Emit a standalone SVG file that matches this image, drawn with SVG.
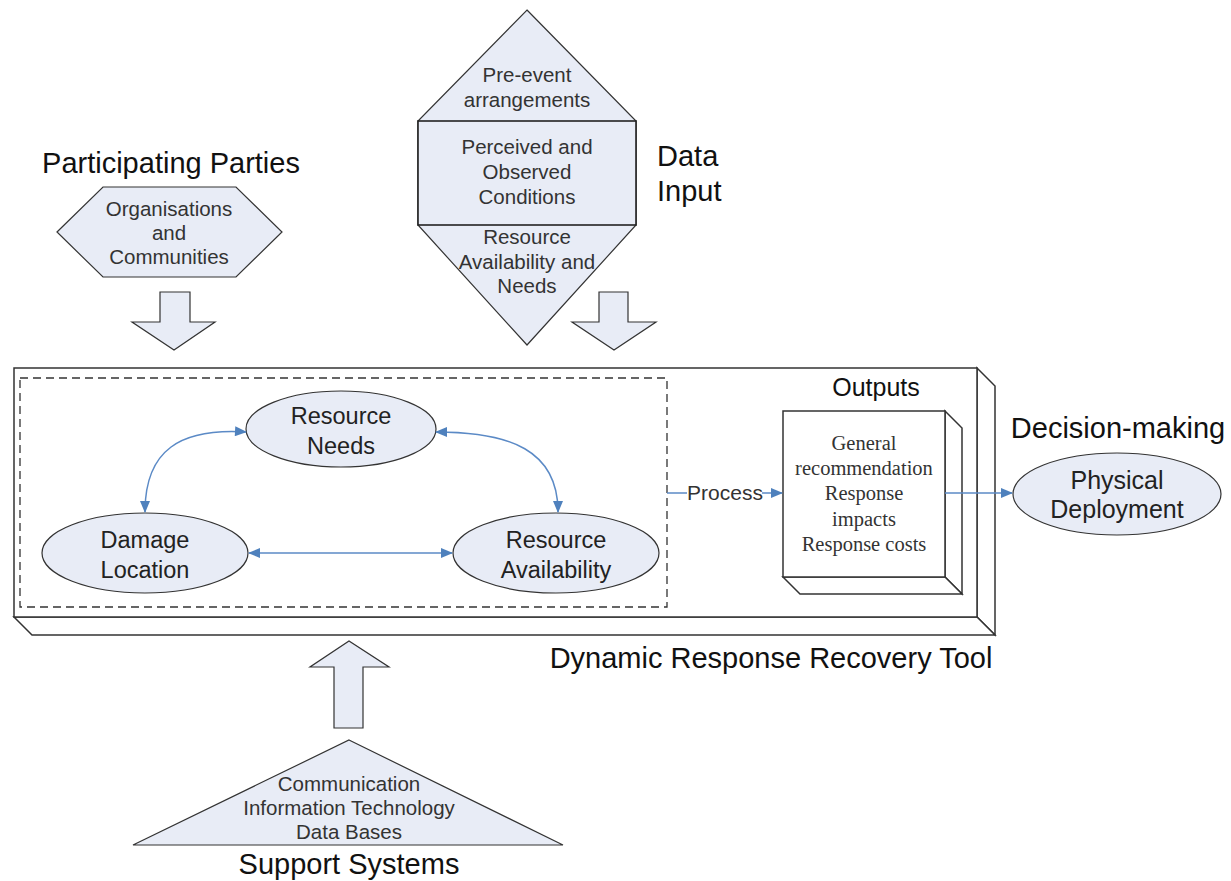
<svg xmlns="http://www.w3.org/2000/svg" width="1231" height="881" viewBox="0 0 1231 881">
<defs>
<style>
.title{font-family:"Liberation Sans",Arial,sans-serif;font-size:29px;fill:#111;text-anchor:middle}
.inner{font-family:"Liberation Sans",Arial,sans-serif;font-size:20.5px;fill:#333;text-anchor:middle}
.node{font-family:"Liberation Sans",Arial,sans-serif;font-size:23.5px;fill:#222;text-anchor:middle}
.serif{font-family:"Liberation Serif","Times New Roman",serif;font-size:20.5px;fill:#333;text-anchor:middle}
.shape{fill:#e8ecf6;stroke:#333;stroke-width:1.2}
.box{fill:#fff;stroke:#333;stroke-width:1.5}
.conn{fill:none;stroke:#5b8ac6;stroke-width:1.5}
</style>
<marker id="ah" viewBox="0 0 12 10" refX="11" refY="5" markerWidth="13" markerHeight="10" markerUnits="userSpaceOnUse" orient="auto-start-reverse">
<path d="M0,0 L12,5 L0,10 z" fill="#4f81bd"/>
</marker>
</defs>

<g id="participating-parties">
<text class="title" x="171" y="173">Participating Parties</text>
<polygon class="shape" points="57,232 103,187 236,187 282,232 236,277 103,277"/>
<text class="inner" x="169" y="216">Organisations</text>
<text class="inner" x="169" y="240">and</text>
<text class="inner" x="169" y="264">Communities</text>
<polygon class="shape" points="160,292 190,292 190,322 215,322 174,350 132,322 160,322"/>
</g>

<g id="data-input">
<polygon class="shape" points="527,10 636,121 636,225 527,345 418,225 418,121"/>
<rect x="418" y="121" width="218" height="104" fill="#e8ecf6" stroke="#222" stroke-width="1.6"/>
<text class="inner" x="527" y="82">Pre-event</text>
<text class="inner" x="527" y="107">arrangements</text>
<text class="inner" x="527" y="154">Perceived and</text>
<text class="inner" x="527" y="179">Observed</text>
<text class="inner" x="527" y="204">Conditions</text>
<text class="inner" x="527" y="244">Resource</text>
<text class="inner" x="527" y="269">Availability and</text>
<text class="inner" x="527" y="293">Needs</text>
<text class="title" x="657" y="166" style="text-anchor:start">Data</text>
<text class="title" x="657" y="201" style="text-anchor:start">Input</text>
<polygon class="shape" points="599,292 628,292 628,322 656,322 614,350 572,322 599,322"/>
</g>

<g id="tool">
<polygon class="box" points="977,368 995,386 995,635 977,617"/>
<polygon class="box" points="14,617 977,617 995,635 32,635"/>
<rect class="box" x="14" y="368" width="963" height="249"/>
<rect x="20" y="378" width="647" height="229" fill="none" stroke="#333" stroke-width="1.3" stroke-dasharray="8,5"/>
<text class="title" x="771" y="668">Dynamic Response Recovery Tool</text>
</g>

<g id="resource-needs">
<ellipse class="shape" cx="341" cy="429" rx="95" ry="38"/>
<text class="node" x="341" y="424">Resource</text>
<text class="node" x="341" y="454">Needs</text>
</g>
<g id="damage-location">
<ellipse class="shape" cx="145" cy="553" rx="103" ry="40"/>
<text class="node" x="145" y="548">Damage</text>
<text class="node" x="145" y="578">Location</text>
</g>
<g id="resource-availability">
<ellipse class="shape" cx="556" cy="553" rx="103" ry="40"/>
<text class="node" x="556" y="548">Resource</text>
<text class="node" x="556" y="578">Availability</text>
</g>

<g id="outputs">
<text class="title" x="876" y="396" style="font-size:25px">Outputs</text>
<polygon class="box" points="945,411 962,428 962,594 945,577"/>
<polygon class="box" points="783,577 945,577 962,594 800,594"/>
<rect class="box" x="783" y="411" width="162" height="166"/>
<text class="serif" x="864" y="450">General</text>
<text class="serif" x="864" y="475">recommendation</text>
<text class="serif" x="864" y="500">Response</text>
<text class="serif" x="864" y="526">impacts</text>
<text class="serif" x="864" y="551">Response costs</text>
</g>

<g id="decision-making">
<text class="title" x="1118" y="438">Decision-making</text>
<ellipse class="shape" cx="1117" cy="494" rx="104" ry="41"/>
<text class="node" x="1117" y="489" style="font-size:25px">Physical</text>
<text class="node" x="1117" y="518" style="font-size:25px">Deployment</text>
</g>

<g id="support-systems">
<polygon class="shape" points="334,728 363,728 363,667 389,667 349,641 310,667 334,667"/>
<polygon class="shape" points="349,740 563,845 133,845"/>
<text class="inner" x="349" y="791">Communication</text>
<text class="inner" x="349" y="815">Information Technology</text>
<text class="inner" x="349" y="839">Data Bases</text>
<text class="title" x="349" y="874">Support Systems</text>
</g>

<g id="connectors">
<path class="conn" d="M246,432 C180,428 145,450 145,512" marker-start="url(#ah)" marker-end="url(#ah)"/>
<path class="conn" d="M436,432 C510,432 558,450 558,512" marker-start="url(#ah)" marker-end="url(#ah)"/>
<path class="conn" d="M249,553 L452,553" marker-start="url(#ah)" marker-end="url(#ah)"/>
<path class="conn" d="M667,493 L687,493"/>
<path class="conn" d="M762,493 L782,493" marker-end="url(#ah)"/>
<text class="inner" x="725" y="500" style="font-size:21px">Process</text>
<path class="conn" d="M945,493 L1012,493" marker-end="url(#ah)"/>
</g>
</svg>
